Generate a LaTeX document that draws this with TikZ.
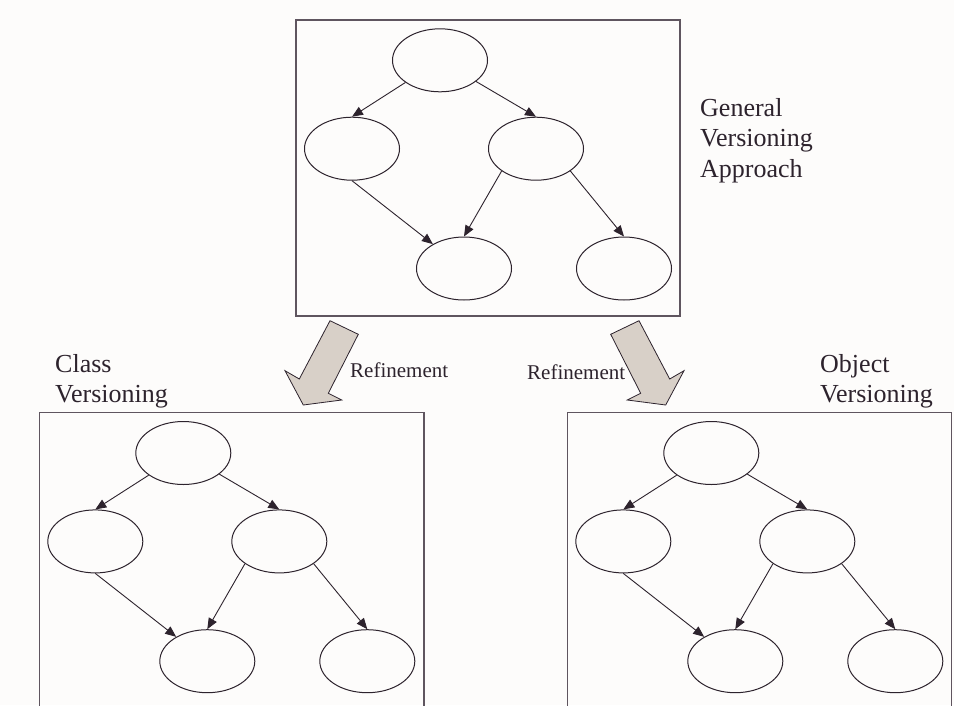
\documentclass[tikz,border=0pt]{standalone}
\usepackage{fontspec}
\setmainfont{Liberation Serif}
\usetikzlibrary{arrows.meta,shapes.geometric}

\definecolor{ink}{RGB}{45,35,45}
\definecolor{frame}{RGB}{95,85,95}
\definecolor{bgpaper}{RGB}{253,252,251}
\definecolor{blockfill}{RGB}{216,208,200}

\tikzset{
  vnode/.style={ellipse, draw=ink, line width=1pt, minimum width=95pt,
    minimum height=63pt, inner sep=0pt},
  arr/.style={draw=ink, line width=0.9pt, -{Triangle[length=11pt,width=9pt]}},
  frameline/.style={draw=frame, line width=1.5pt},
  blockarrow/.style={fill=blockfill, draw=ink, line width=0.8pt, line join=miter},
  biglabel/.style={font=\fontsize{26}{30.5}\selectfont, text=ink, inner sep=0pt,
    align=left},
  smalllabel/.style={font=\fontsize{21}{24}\selectfont, text=ink, inner sep=0pt},
}

% A version tree: #1 = name prefix, #2 = top-left corner of its frame
\newcommand\versiontree[2]{%
  \begin{scope}[shift={(#2)}]
    \node[vnode] (#1t)  at (144,40.3)  {};
    \node[vnode] (#1ml) at (56,128.7)  {};
    \node[vnode] (#1mr) at (240,128.7) {};
    \node[vnode] (#1bm) at (168,248.5) {};
    \node[vnode] (#1br) at (328,248.5) {};
    \draw[arr] (#1t) -- (#1ml.north);
    \draw[arr] (#1t) -- (#1mr.north);
    \draw[arr] (#1ml.south) -- (#1bm);
    \draw[arr] (#1mr.213) -- (#1bm.north);
    \draw[arr] (#1mr.327) -- (#1br.north);
  \end{scope}}

\begin{document}
\begin{tikzpicture}[x=1pt, y=-1pt]
  \useasboundingbox (0,0) rectangle (954,705);
  \fill[bgpaper] (0,0) rectangle (954,705);

  % frames
  \draw[frameline] (296,20) rectangle (680,316);
  \draw[frameline] (39.3,706) |- (424,412.7) -- (424,706);
  \draw[frameline] (567.3,706) |- (951.7,412.7) -- (951.7,706);

  % trees
  \versiontree{g}{296,20}
  \versiontree{c}{39.3,412.7}
  \versiontree{o}{567.3,412.7}

  % refinement block arrows
  \draw[blockarrow] (330,320.7) -- (358.3,334.3) -- (328.3,393.3) -- (341.7,400)
    -- (303.3,405) -- (285,370.7) -- (299.3,379) -- cycle;
  \draw[blockarrow] (639,320.7) -- (610.7,334.3) -- (640.7,393.3) -- (627.3,400)
    -- (665.7,405) -- (684,370.7) -- (669.7,379) -- cycle;

  % labels
  \node[biglabel, anchor=north west] (lblgen) at (700,98.2) {General\\Versioning\\Approach};
  \node[biglabel, anchor=north west] (lblcls) at (55,354.2) {Class\\Versioning};
  \node[biglabel, anchor=north west] (lblobj) at (820,354) {Object\\Versioning};
  \node[smalllabel, anchor=base west] (lblref1) at (350,377) {Refinement};
  \node[smalllabel, anchor=base west] (lblref2) at (527,379.5) {Refinement};
\end{tikzpicture}
\end{document}
